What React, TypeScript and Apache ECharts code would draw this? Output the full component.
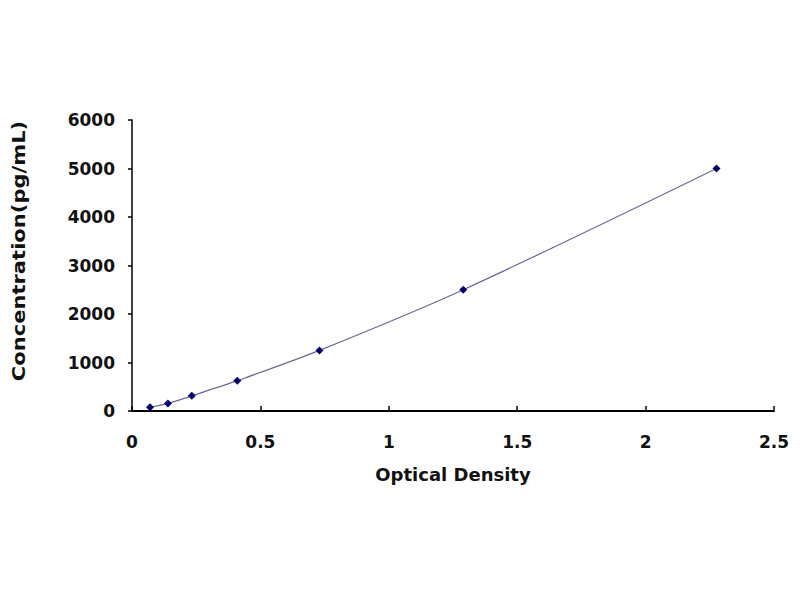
import React, { useEffect, useRef } from "react";
import * as echarts from "echarts";

const odValues = [0.07, 0.14, 0.233, 0.41, 0.73, 1.29, 2.276];
const concValues = [78, 156, 312, 625, 1250, 2500, 5000];
const xTicks = { min: 0, max: 2.5, interval: 0.5 };
const yTicks = { min: 0, max: 6000, interval: 1000 };
const xTitle = "Optical Density";
const yTitle = "Concentration(pg/mL)";

export default function App() {
  const ref = useRef<HTMLDivElement>(null);
  useEffect(() => {
    if (!ref.current) return;
    const chart = echarts.init(ref.current, undefined, { renderer: "svg" });
    const points = odValues.map((x, i) => [x, concValues[i]]);
    const font = "'DejaVu Sans', Arial, sans-serif";
    chart.setOption({
      animation: false,
      backgroundColor: "#ffffff",
      grid: { left: 132, right: 26, top: 120, bottom: 189, containLabel: false },
      graphic: [
        {
          type: "text",
          x: 19,
          y: 251,
          rotation: Math.PI / 2,
          scaleX: 1.24,
          style: {
            text: yTitle,
            fontFamily: font,
            fontWeight: "bold",
            fontSize: 17,
            fill: "#111",
            align: "center",
            verticalAlign: "middle",
          },
        },
      ],
      xAxis: {
        type: "value",
        min: xTicks.min,
        max: xTicks.max,
        interval: xTicks.interval,
        name: xTitle,
        nameLocation: "middle",
        nameGap: 54,
        nameTextStyle: { fontFamily: font, fontWeight: "bold", fontSize: 18, color: "#111" },
        axisLine: { show: true, onZero: false, lineStyle: { color: "#000", width: 2 } },
        axisTick: { show: true, inside: true, length: 5, lineStyle: { color: "#000", width: 1.5 } },
        axisLabel: {
          fontFamily: font,
          fontWeight: "bold",
          fontSize: 17,
          color: "#111",
          margin: 22,
          formatter: (v: number) => String(v),
        },
        splitLine: { show: false },
      },
      yAxis: {
        type: "value",
        min: yTicks.min,
        max: yTicks.max,
        interval: yTicks.interval,
        axisLine: { show: true, lineStyle: { color: "#000", width: 1.5 } },
        axisTick: { show: true, inside: false, length: 4, lineStyle: { color: "#000", width: 1.5 } },
        axisLabel: {
          fontFamily: font,
          fontWeight: "bold",
          fontSize: 17,
          color: "#111",
          margin: 17,
          formatter: (v: number) => String(v),
        },
        splitLine: { show: false },
      },
      series: [
        {
          type: "line",
          data: points,
          smooth: 0.3,
          symbol: "diamond",
          symbolSize: 8,
          itemStyle: { color: "#000066" },
          lineStyle: { color: "#6a6a9a", width: 1.2 },
        },
      ],
    });
    return () => chart.dispose();
  }, []);
  return (
    <div
      ref={ref}
      style={{ position: "fixed", left: 0, top: 0, width: 800, height: 600 }}
    />
  );
}
